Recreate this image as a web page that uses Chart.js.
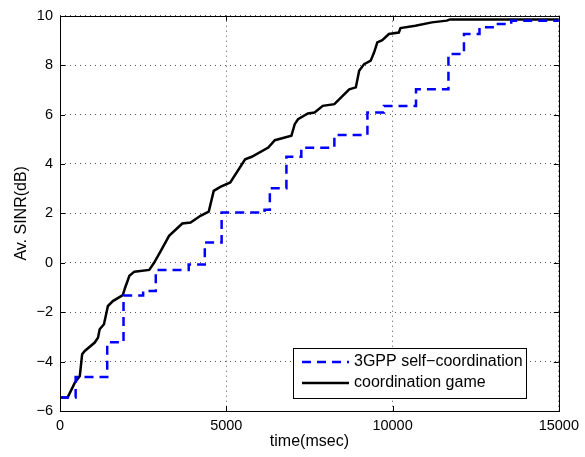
<!DOCTYPE html>
<html>
<head>
<meta charset="utf-8">
<script src="https://cdn.jsdelivr.net/npm/chart.js@4.4.1/dist/chart.umd.min.js"></script>
<style>
  html, body { margin: 0; padding: 0; background: #fff; }
  #wrap { width: 585px; height: 457px; }
</style>
</head>
<body>
<div id="wrap"><canvas id="sinrgraph" width="585" height="457"></canvas></div>
<script>
// 3GPP self-coordination: step times (msec) and level after each step (dB)
const gppTime = [0, 470, 1420, 1910, 2500, 2880, 3870, 4354, 4860, 6150, 6310, 6808, 7256, 8250, 9244, 9741, 10705, 11680, 12147, 12614, 13121, 13568, 15000];
const gppSinr = [-5.45, -4.62, -3.22, -1.33, -1.14, -0.29, -0.07, 0.82, 2.03, 2.15, 3.02, 4.29, 4.66, 5.17, 6.08, 6.35, 7.02, 8.45, 9.26, 9.53, 9.66, 9.80, 9.80];

// coordination game
const gameTime = [0, 230, 447, 596, 666, 745, 1044, 1143, 1193, 1322, 1441, 1590, 1888, 1958, 2087, 2237, 2684, 2833, 3032, 3280, 3677, 3926, 4225, 4473, 4622, 4821, 5120, 5567, 5766, 6262, 6461, 6958, 7058, 7157, 7455, 7654, 7902, 8250, 8698, 8896, 8996, 9145, 9343, 9443, 9542, 9691, 9890, 10188, 10238, 10685, 11183, 11630, 11729, 15000];
const gameSinr = [-5.45, -5.45, -4.85, -4.58, -3.7, -3.57, -3.23, -3.03, -2.69, -2.49, -1.75, -1.55, -1.31, -1.01, -0.53, -0.36, -0.29, 0.01, 0.48, 1.09, 1.59, 1.63, 1.9, 2.07, 2.91, 3.07, 3.25, 4.19, 4.29, 4.66, 4.96, 5.14, 5.61, 5.81, 6.04, 6.08, 6.35, 6.42, 7.02, 7.1, 7.77, 8.04, 8.18, 8.51, 8.92, 9.01, 9.26, 9.32, 9.5, 9.59, 9.73, 9.8, 9.85, 9.85];

const xTicks = [0, 5000, 10000, 15000];
const yTicks = [-6, -4, -2, 0, 2, 4, 6, 8, 10];

const seriesNames = ['3GPP self\u2212coordination', 'coordination game'];

const FONT = '"Liberation Sans", Arial, Helvetica, sans-serif';

function toPoints(xs, ys) {
    return xs.map((x, i) => ({ x: x, y: ys[i] }));
}

function fmt(v) {
    return String(v).replace('-', '\u2212');
}

// box round the axes, inward tick marks and the legend
const matlabAxes = {
    id: 'matlabAxes',
    afterDraw(chart) {
        const c = chart.ctx;
        const a = chart.chartArea;
        const xs = chart.scales.x, ys = chart.scales.y;
        c.save();
        c.strokeStyle = '#000';
        c.lineWidth = 1;
        c.setLineDash([]);
        c.strokeRect(Math.round(a.left) + 0.5, Math.round(a.top) + 0.5,
            Math.round(a.right - a.left), Math.round(a.bottom - a.top));
        c.beginPath();
        xTicks.forEach(t => {
            const px = Math.round(xs.getPixelForValue(t)) + 0.5;
            c.moveTo(px, a.bottom); c.lineTo(px, a.bottom - 5);
            c.moveTo(px, a.top); c.lineTo(px, a.top + 5);
        });
        yTicks.forEach(t => {
            const py = Math.round(ys.getPixelForValue(t)) + 0.5;
            c.moveTo(a.left, py); c.lineTo(a.left + 5, py);
            c.moveTo(a.right, py); c.lineTo(a.right - 5, py);
        });
        c.stroke();

        // legend
        const lx = 293, ly = 348, lw = 233, lh = 50;
        c.fillStyle = '#fff';
        c.fillRect(lx, ly, lw, lh);
        c.strokeRect(lx + 0.5, ly + 0.5, lw, lh);
        const ds = chart.data.datasets;
        const rows = [362, 383];
        rows.forEach((ry, i) => {
            c.beginPath();
            c.strokeStyle = ds[i].borderColor;
            c.lineWidth = ds[i].borderWidth;
            c.setLineDash(ds[i].borderDash || []);
            c.moveTo(302, ry); c.lineTo(349, ry);
            c.stroke();
            c.setLineDash([]);
            c.fillStyle = '#000';
            c.font = '16px ' + FONT;
            c.textBaseline = 'middle';
            c.fillText(ds[i].label, 354, ry);
        });
        c.restore();
    }
};

const ctx = document.getElementById('sinrgraph').getContext('2d');
const sinrChart = new Chart(ctx, {
    type: 'line',
    data: {
        datasets: [{
            label: seriesNames[0],
            data: toPoints(gppTime, gppSinr),
            borderColor: '#0000ff',
            borderWidth: 2.5,
            borderDash: [9, 6],
            stepped: true,
            pointRadius: 0,
            fill: false
        }, {
            label: seriesNames[1],
            data: toPoints(gameTime, gameSinr),
            borderColor: '#000000',
            borderWidth: 2.5,
            pointRadius: 0,
            tension: 0,
            fill: false
        }]
    },
    options: {
        responsive: false,
        animation: false,
        layout: { padding: { left: 0, right: 22, top: 15, bottom: 0 } },
        plugins: {
            legend: { display: false },
            tooltip: { enabled: false }
        },
        scales: {
            x: {
                type: 'linear',
                min: 0, max: 15000,
                afterFit: s => { s.height = 46; },
                afterBuildTicks: s => { s.ticks = xTicks.map(v => ({ value: v })); },
                grid: { color: '#555', drawTicks: false, lineWidth: 1 },
                border: { display: false, dash: [1, 4] },
                ticks: { color: '#000', padding: 6, maxRotation: 0, font: { family: FONT, size: 14.5 },
                    callback: v => fmt(v) },
                title: { display: true, text: 'time(msec)', color: '#000',
                    font: { family: FONT, size: 16 }, padding: { top: 0, bottom: 6 } }
            },
            y: {
                type: 'linear',
                min: -6, max: 10,
                afterFit: s => { s.width = 60; },
                afterBuildTicks: s => { s.ticks = yTicks.map(v => ({ value: v })); },
                grid: { color: '#555', drawTicks: false, lineWidth: 1 },
                border: { display: false, dash: [1, 4] },
                ticks: { color: '#000', padding: 7, font: { family: FONT, size: 14.5 },
                    callback: v => fmt(v) },
                title: { display: true, text: 'Av. SINR(dB)', color: '#000',
                    font: { family: FONT, size: 16 }, padding: { top: 12, bottom: 0 } }
            }
        }
    },
    plugins: [matlabAxes]
});
</script>
</body>
</html>
